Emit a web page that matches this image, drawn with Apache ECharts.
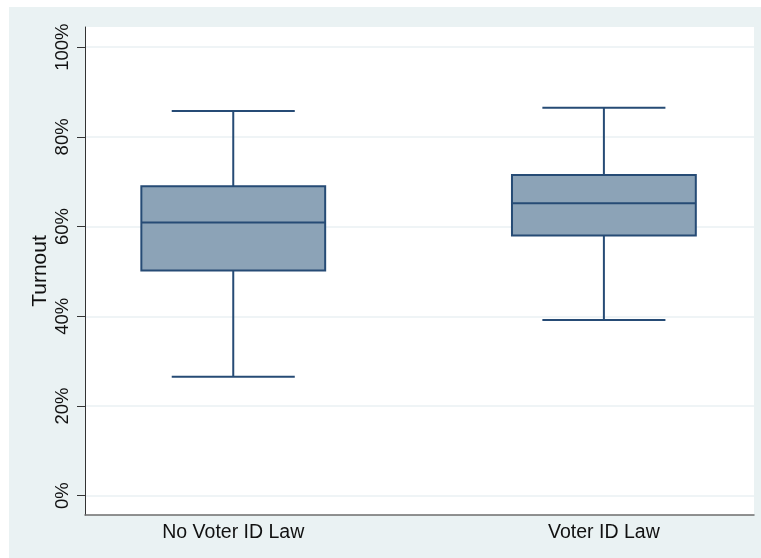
<!DOCTYPE html>
<html>
<head>
<meta charset="utf-8">
<title>Turnout by voter ID law</title>
<script src="https://cdn.jsdelivr.net/npm/echarts@6/dist/echarts.min.js"></script>
<style>
  html, body { margin: 0; padding: 0; background: #ffffff; }
  #chart { position: absolute; left: 9px; top: 7px; width: 752px; height: 551px; }
</style>
</head>
<body>
<div id="chart"></div>
<script>
// Box-plot summaries of turnout (%) for each group
const categories = ['No Voter ID Law', 'Voter ID Law'];
const lowerWhisker = [26.5, 39.2];
const lowerQuartile = [50.2, 58.0];
const medianTurnout = [60.9, 65.2];
const upperQuartile = [69.0, 71.5];
const upperWhisker = [85.8, 86.5];
const yTicks = [0, 20, 40, 60, 80, 100];

const boxData = categories.map((c, i) => [
  i, lowerWhisker[i], lowerQuartile[i], medianTurnout[i], upperQuartile[i], upperWhisker[i]
]);

const lineColor = '#264b75';
const fillColor = '#8ca3b7';

function renderBox(params, api) {
  const x = api.value(0);
  const pMin = api.coord([x, api.value(1)]);
  const pQ1 = api.coord([x, api.value(2)]);
  const pMed = api.coord([x, api.value(3)]);
  const pQ3 = api.coord([x, api.value(4)]);
  const pMax = api.coord([x, api.value(5)]);
  const unit = api.size([1, 0])[0];
  const halfBox = unit * 0.248;
  const halfCap = unit * 0.166;
  const cx = pMed[0];
  const stroke = { stroke: lineColor, lineWidth: 2 };
  return {
    type: 'group',
    children: [
      { type: 'line', shape: { x1: cx, y1: pMax[1], x2: cx, y2: pQ3[1] }, style: stroke },
      { type: 'line', shape: { x1: cx, y1: pQ1[1], x2: cx, y2: pMin[1] }, style: stroke },
      { type: 'line', shape: { x1: cx - halfCap, y1: pMax[1], x2: cx + halfCap, y2: pMax[1] }, style: stroke },
      { type: 'line', shape: { x1: cx - halfCap, y1: pMin[1], x2: cx + halfCap, y2: pMin[1] }, style: stroke },
      {
        type: 'rect',
        shape: { x: cx - halfBox, y: pQ3[1], width: halfBox * 2, height: pQ1[1] - pQ3[1] },
        style: { fill: fillColor, stroke: lineColor, lineWidth: 2 }
      },
      { type: 'line', shape: { x1: cx - halfBox, y1: pMed[1], x2: cx + halfBox, y2: pMed[1] }, style: stroke }
    ]
  };
}

const chart = echarts.init(document.getElementById('chart'), null, { renderer: 'canvas' });
chart.setOption({
  backgroundColor: '#eaf2f3',
  animation: false,
  textStyle: { fontFamily: 'Liberation Sans, Arial, sans-serif' },
  grid: {
    left: 76, top: 20, right: 7, bottom: 43,
    show: true, backgroundColor: '#ffffff', borderWidth: 0
  },
  xAxis: {
    type: 'value',
    min: -0.4,
    max: 1.405,
    axisLine: { show: true, onZero: false, lineStyle: { color: '#6e6e6e', width: 1.5 } },
    axisTick: { show: false },
    splitLine: { show: false },
    axisLabel: {
      customValues: [0, 1],
      formatter: v => categories[Math.round(v)],
      color: '#111111',
      fontSize: 19.5,
      margin: 8
    }
  },
  yAxis: {
    type: 'value',
    min: -4.3,
    max: 104.5,
    name: 'Turnout',
    nameLocation: 'middle',
    nameGap: 34,
    nameMoveOverlap: false,
    nameTextStyle: { color: '#111111', fontSize: 21 },
    axisLine: { show: true, onZero: false, lineStyle: { color: '#333333', width: 1 } },
    axisTick: { show: true, customValues: yTicks, length: 8, lineStyle: { color: '#333333' } },
    splitLine: { show: true, lineStyle: { color: '#eaf1f3', width: 1.5 } },
    axisLabel: {
      customValues: yTicks,
      formatter: '{value}%',
      rotate: 90,
      color: '#111111',
      fontSize: 18.5,
      margin: 13
    }
  },
  series: [{
    type: 'custom',
    renderItem: renderBox,
    encode: { x: 0, y: [1, 2, 3, 4, 5] },
    data: boxData
  }]
});
</script>
</body>
</html>
